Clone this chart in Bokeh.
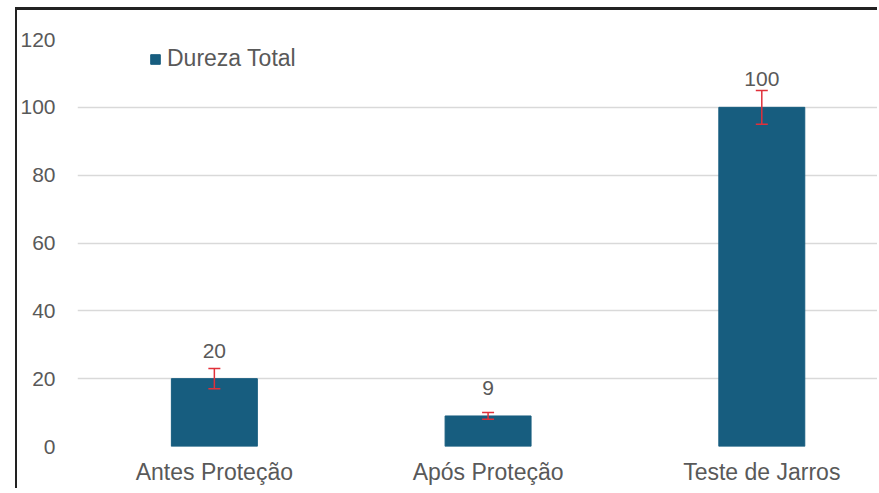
from bokeh.plotting import figure
from bokeh.models import ColumnDataSource, Range1d, FixedTicker, Whisker, Legend, LegendItem, TeeHead
from bokeh.embed import file_html
from bokeh.resources import INLINE
from bokeh.core.properties import value
import numpy as np

categories = ["Antes Proteção", "Após Proteção", "Teste de Jarros"]
dureza = [20, 9, 100]
erro = [3, 1, 5]
series_name = "Dureza Total"
y_ticks = [0, 20, 40, 60, 80, 100, 120]

x = list(np.arange(len(categories)) + 0.5)
src = ColumnDataSource(dict(
    x=x, top=dureza,
    upper=[v + e for v, e in zip(dureza, erro)],
    lower=[v - e for v, e in zip(dureza, erro)],
    label=[str(v) for v in dureza],
))

FONT = "Liberation Sans"
GRAY = "#595959"
RED = "#e0303a"

p = figure(width=862, height=481, output_backend="svg", toolbar_location=None,
           x_range=Range1d(0, 2.93), y_range=Range1d(0, 120),
           min_border_left=54, min_border_right=0, min_border_top=29, min_border_bottom=45)
p.styles = {"border-left": "2px solid #222", "border-top": "3px solid #222",
            "margin-left": "15px", "margin-top": "7px"}
p.outline_line_color = None

bars = p.vbar(x="x", top="top", width=0.314, source=src, fill_color="#175d7f", line_color="#175d7f")
p.add_layout(Whisker(base="x", upper="upper", lower="lower", source=src, level="overlay",
                     line_color=RED, line_width=1.5,
                     upper_head=TeeHead(size=12, line_color=RED, line_width=1.5),
                     lower_head=TeeHead(size=12, line_color=RED, line_width=1.5)))

p.text(x="x", y="top", text="label", source=src, text_align="center", text_baseline="alphabetic",
       y_offset=-28, text_font=value(FONT), text_font_size="21px", text_color=GRAY)

p.xaxis.ticker = FixedTicker(ticks=x)
p.xaxis.major_label_overrides = {xi: c for xi, c in zip(x, categories)}
p.yaxis.ticker = FixedTicker(ticks=y_ticks)
for ax in (p.xaxis[0], p.yaxis[0]):
    ax.axis_line_color = None
    ax.major_tick_line_color = None
    ax.minor_tick_line_color = None
    ax.major_label_text_font = FONT
    ax.major_label_text_color = GRAY
p.yaxis.major_label_text_font_size = "21px"
p.xaxis.major_label_text_font_size = "23px"
p.yaxis.major_label_standoff = 16
p.xaxis.major_label_standoff = 6

p.xgrid.grid_line_color = None
p.ygrid.grid_line_color = "#d9d9d9"
p.ygrid.grid_line_width = 1.5
p.ygrid.ticker = FixedTicker(ticks=y_ticks)

legend = Legend(items=[LegendItem(label=series_name, renderers=[bars])],
                location=(72, 374), border_line_color=None, background_fill_alpha=0,
                glyph_width=12, glyph_height=12, label_standoff=6, padding=0, margin=0,
                label_text_font=FONT, label_text_font_size="23px", label_text_color=GRAY)
p.add_layout(legend)

open("out.html", "w").write(file_html(p, INLINE))
